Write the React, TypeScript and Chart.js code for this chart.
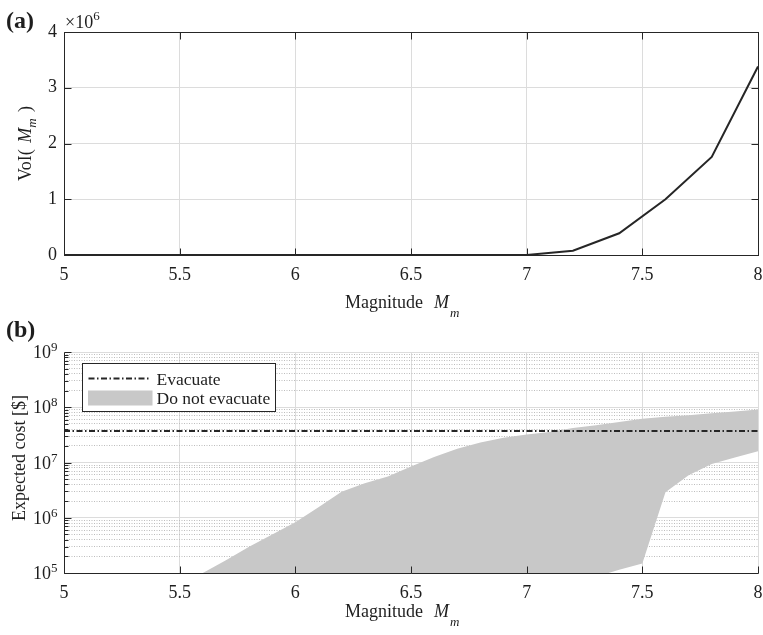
import React, { useEffect, useRef } from 'react';
import { Chart, registerables } from 'chart.js';

Chart.register(...registerables);

const SERIF = "'Liberation Serif', 'Times New Roman', Times, serif";
const INK = '#262626';
const TEXT = '#1e1e1e';
const GRID = '#dcdcdc';
const GRID_MINOR = '#bdbdbd';
const FILL = '#c8c8c8';

// ---- Panel (a): value of information ----
const voiMagnitudes = [5.0, 5.2, 5.4, 5.6, 5.8, 6.0, 6.2, 6.4, 6.6, 6.8, 7.0, 7.2, 7.4, 7.6, 7.8, 8.0];
const voiValues = [0, 0, 0, 0, 0, 0, 0, 0, 0, 0, 0, 77000, 390000, 1000000, 1760000, 3380000];
const voiTicks = [0, 1e6, 2e6, 3e6, 4e6];
const magnitudeTicks = [5, 5.5, 6, 6.5, 7, 7.5, 8];

// ---- Panel (b): expected cost ----
const bandMagnitudes = [5.6, 5.7, 5.8, 5.9, 6.0, 6.1, 6.2, 6.3, 6.4, 6.5, 6.6, 6.7, 6.8, 6.9, 7.0, 7.1, 7.2, 7.3, 7.4, 7.5, 7.6, 7.7, 7.8, 7.9, 8.0];
const costUpper = [1e5, 1.7e5, 3.0e5, 5.0e5, 8.3e5, 1.55e6, 2.95e6, 4.2e6, 5.6e6, 8.5e6, 1.26e7, 1.78e7, 2.3e7, 2.8e7, 3.2e7, 3.55e7, 4.2e7, 4.7e7, 5.4e7, 6.2e7, 6.7e7, 7.2e7, 7.8e7, 8.4e7, 9.1e7];
const costLower = [1e3, 1e3, 1e3, 1e3, 1e3, 1e3, 1e3, 1e3, 1e3, 1e3, 1e3, 1e3, 1e3, 1e3, 1e3, 1e3, 1e3, 8.5e4, 1.15e5, 1.48e5, 2.9e6, 5.9e6, 9.4e6, 1.23e7, 1.6e7];
const evacuateMagnitudes = [5, 8];
const evacuateCost = [3.7e7, 3.7e7];
const costDecades = [1e5, 1e6, 1e7, 1e8, 1e9];
const decadeExponents = ['5', '6', '7', '8', '9'];
const minorMultipliers = [1, 2, 3, 4, 5, 6, 7, 8, 9];

const logTickValues: { value: number; major: boolean }[] = [];
costDecades.forEach((d, i) => {
  if (i === costDecades.length - 1) {
    logTickValues.push({ value: d, major: true });
  } else {
    minorMultipliers.forEach((m) => logTickValues.push({ value: d * m, major: m === 1 }));
  }
});

type Seg = { t: string; font: string; dy?: number; gap?: number };
const f = (size: number, style = '') => `${style} ${size}px ${SERIF}`.trim();

function drawRich(ctx: CanvasRenderingContext2D, segs: Seg[], x: number, y: number, align: 'left' | 'center' | 'right') {
  let w = 0;
  for (const s of segs) {
    ctx.font = s.font;
    w += ctx.measureText(s.t).width + (s.gap || 0);
  }
  let cx = align === 'center' ? x - w / 2 : align === 'right' ? x - w : x;
  ctx.textAlign = 'left';
  ctx.textBaseline = 'alphabetic';
  for (const s of segs) {
    cx += s.gap || 0;
    ctx.font = s.font;
    ctx.fillText(s.t, cx, y + (s.dy || 0));
    cx += ctx.measureText(s.t).width;
  }
}

const al = (p: number) => Math.round(p) + 0.5;

function line(ctx: CanvasRenderingContext2D, x1: number, y1: number, x2: number, y2: number) {
  ctx.beginPath();
  ctx.moveTo(x1, y1);
  ctx.lineTo(x2, y2);
  ctx.stroke();
}

function magnitudeTitle(ctx: CanvasRenderingContext2D, cx: number, baseline: number) {
  drawRich(
    ctx,
    [
      { t: 'Magnitude', font: f(18) },
      { t: 'M', font: f(18, 'italic'), gap: 11 },
      { t: 'm', font: f(13, 'italic'), dy: 9, gap: 1 },
    ],
    cx - 66,
    baseline,
    'left'
  );
}

const panelAPlugin = {
  id: 'panelA',
  afterDraw(chart: any) {
    const { ctx, chartArea: a, scales } = chart;
    const sx = scales.x;
    const sy = scales.y;
    ctx.save();
    const L = al(sx.getPixelForValue(5));
    const R = al(sx.getPixelForValue(8));
    const T = al(sy.getPixelForValue(4e6));
    const B = al(sy.getPixelForValue(0));
    ctx.strokeStyle = INK;
    ctx.lineWidth = 1;
    ctx.strokeRect(L, T, R - L, B - T);
    magnitudeTicks.forEach((v) => {
      const x = al(sx.getPixelForValue(v));
      line(ctx, x, B, x, B - 7);
      line(ctx, x, T, x, T + 7);
    });
    voiTicks.forEach((v) => {
      const y = al(sy.getPixelForValue(v));
      line(ctx, L, y, L + 7, y);
      line(ctx, R, y, R - 7, y);
    });
    ctx.fillStyle = TEXT;
    ctx.font = f(24, 'bold');
    ctx.textAlign = 'left';
    ctx.textBaseline = 'alphabetic';
    ctx.fillText('(a)', 6, 28);
    drawRich(ctx, [{ t: '×10', font: f(18) }, { t: '6', font: f(13), dy: -8 }], a.left + 1, 28, 'left');
    magnitudeTitle(ctx, (a.left + a.right) / 2, 308);
    ctx.save();
    ctx.translate(31, (a.top + a.bottom) / 2);
    ctx.rotate(-Math.PI / 2);
    drawRich(
      ctx,
      [
        { t: 'VoI( ', font: f(18) },
        { t: 'M', font: f(18, 'italic'), gap: 2 },
        { t: 'm', font: f(13, 'italic'), dy: 5 },
        { t: ' )', font: f(18), gap: 2 },
      ],
      0,
      0,
      'center'
    );
    ctx.restore();
    ctx.restore();
  },
};

const panelBPlugin = {
  id: 'panelB',
  afterDraw(chart: any) {
    const { ctx, chartArea: a, scales } = chart;
    const sx = scales.x;
    const sy = scales.y;
    ctx.save();
    const L = al(sx.getPixelForValue(5));
    const B = al(sy.getPixelForValue(1e5));
    const T = al(sy.getPixelForValue(1e9));
    const R = al(sx.getPixelForValue(8));
    ctx.strokeStyle = INK;
    ctx.lineWidth = 1;
    line(ctx, L, T, L, B);
    line(ctx, L, B, R, B);
    magnitudeTicks.forEach((v) => {
      const x = al(sx.getPixelForValue(v));
      line(ctx, x, B, x, B - 7);
    });
    logTickValues.forEach((tk) => {
      const y = al(sy.getPixelForValue(tk.value));
      line(ctx, L, y, L + (tk.major ? 7 : 4), y);
    });
    ctx.fillStyle = TEXT;
    costDecades.forEach((d, i) => {
      const y = sy.getPixelForValue(d);
      drawRich(ctx, [{ t: '10', font: f(18) }, { t: decadeExponents[i], font: f(13), dy: -7 }], a.left - 6.5, y + 6, 'right');
    });
    ctx.font = f(24, 'bold');
    ctx.textAlign = 'left';
    ctx.textBaseline = 'alphabetic';
    ctx.fillText('(b)', 6, 19);
    magnitudeTitle(ctx, (a.left + a.right) / 2, 298.5);
    ctx.save();
    ctx.translate(25, 140);
    ctx.rotate(-Math.PI / 2);
    drawRich(ctx, [{ t: 'Expected cost [$]', font: f(18) }], 0, 0, 'center');
    ctx.restore();

    // legend
    const ds = chart.data.datasets;
    const bx = al(a.left + 17.5);
    const by = al(a.top + 11);
    const bw = 193;
    const bh = 48;
    ctx.fillStyle = '#ffffff';
    ctx.fillRect(bx, by, bw, bh);
    ctx.strokeStyle = INK;
    ctx.lineWidth = 1;
    ctx.strokeRect(bx, by, bw, bh);
    const r1 = by + 15;
    const r2 = by + 34.5;
    ctx.save();
    ctx.strokeStyle = ds[0].borderColor;
    ctx.lineWidth = ds[0].borderWidth;
    ctx.setLineDash(ds[0].borderDash);
    line(ctx, bx + 6, r1, bx + 68, r1);
    ctx.restore();
    ctx.fillStyle = ds[1].backgroundColor;
    ctx.fillRect(bx + 5.5, r2 - 7.5, 64.5, 15);
    ctx.fillStyle = TEXT;
    ctx.font = f(17.5);
    ctx.textAlign = 'left';
    ctx.textBaseline = 'alphabetic';
    ctx.fillText(ds[0].label, bx + 74, r1 + 6);
    ctx.fillText(ds[1].label, bx + 74, r2 + 6);
    ctx.restore();
  },
};

const tickFont = { family: SERIF, size: 18 };

const fitX = (h: number) => (s: any) => {
  s.height = h;
  s.paddingLeft = 0;
  s.paddingRight = 0;
};
const fitY = (s: any) => {
  s.width = 64;
  s.paddingTop = 0;
  s.paddingBottom = 0;
};

export default function App() {
  const refA = useRef<HTMLCanvasElement>(null);
  const refB = useRef<HTMLCanvasElement>(null);

  useEffect(() => {
    const chartA = new Chart(refA.current as HTMLCanvasElement, {
      type: 'line',
      data: {
        datasets: [
          {
            label: 'VoI',
            data: voiMagnitudes.map((x, i) => ({ x, y: voiValues[i] })),
            borderColor: INK,
            borderWidth: 2,
            pointRadius: 0,
            fill: false,
            tension: 0,
          },
        ],
      },
      options: {
        animation: false,
        responsive: false,
        devicePixelRatio: 1,
        layout: { padding: { top: 32, right: 5, left: 0, bottom: 0 } },
        plugins: { legend: { display: false }, tooltip: { enabled: false } },
        scales: {
          x: {
            type: 'linear',
            min: 5,
            max: 8,
            afterFit: fitX(63),
            ticks: { stepSize: 0.5, font: tickFont, color: TEXT, padding: 9, maxRotation: 0, autoSkip: false, callback: (v: any) => String(v) },
            grid: { color: GRID, drawTicks: false },
            border: { display: false },
          },
          y: {
            type: 'linear',
            min: 0,
            max: 4e6,
            afterFit: fitY,
            ticks: { stepSize: 1e6, font: tickFont, color: TEXT, padding: 7, callback: (v: any) => String(v / 1e6) },
            grid: { color: GRID, drawTicks: false },
            border: { display: false },
          },
        },
      },
      plugins: [panelAPlugin],
    } as any);

    const chartB = new Chart(refB.current as HTMLCanvasElement, {
      type: 'line',
      data: {
        datasets: [
          {
            label: 'Evacuate',
            data: evacuateMagnitudes.map((x, i) => ({ x, y: evacuateCost[i] })),
            borderColor: INK,
            borderWidth: 2,
            borderDash: [6, 2.5, 1.5, 2.5],
            pointRadius: 0,
            fill: false,
          },
          {
            label: 'Do not evacuate',
            data: bandMagnitudes.map((x, i) => ({ x, y: costUpper[i] })),
            borderColor: 'rgba(0,0,0,0)',
            backgroundColor: FILL,
            borderWidth: 1,
            pointRadius: 0,
            fill: '+1',
            tension: 0,
            clip: 0,
          },
          {
            label: 'Do not evacuate (lower)',
            data: bandMagnitudes.map((x, i) => ({ x, y: costLower[i] })),
            borderColor: 'rgba(0,0,0,0)',
            backgroundColor: FILL,
            borderWidth: 1,
            pointRadius: 0,
            fill: false,
            tension: 0,
            clip: 0,
          },
        ],
      },
      options: {
        animation: false,
        responsive: false,
        devicePixelRatio: 1,
        layout: { padding: { top: 34, right: 5, left: 0, bottom: 0 } },
        plugins: { legend: { display: false }, tooltip: { enabled: false } },
        scales: {
          x: {
            type: 'linear',
            min: 5,
            max: 8,
            afterFit: fitX(62),
            ticks: { stepSize: 0.5, font: tickFont, color: TEXT, padding: 9, maxRotation: 0, autoSkip: false, callback: (v: any) => String(v) },
            grid: { color: GRID, drawTicks: false },
            border: { display: false },
          },
          y: {
            type: 'logarithmic',
            min: 1e5,
            max: 1e9,
            afterFit: fitY,
            afterBuildTicks: (s: any) => {
              s.ticks = logTickValues.map((t) => ({ value: t.value, major: t.major }));
            },
            ticks: { display: false, autoSkip: false },
            grid: {
              color: (c: any) => (c.tick && c.tick.major ? GRID : GRID_MINOR),
              drawTicks: false,
            },
            border: {
              display: false,
              dash: (c: any) => (c.tick && c.tick.major ? [] : [1, 1.5]),
            },
          },
        },
      },
      plugins: [panelBPlugin],
    } as any);

    return () => {
      chartA.destroy();
      chartB.destroy();
    };
  }, []);

  return (
    <div style={{ position: 'absolute', left: 0, top: 0, width: 763, height: 635, background: '#fff' }}>
      <canvas ref={refA} width={763} height={318} style={{ position: 'absolute', left: 0, top: 0, display: 'block' }} />
      <canvas ref={refB} width={763} height={317} style={{ position: 'absolute', left: 0, top: 318, display: 'block' }} />
    </div>
  );
}
